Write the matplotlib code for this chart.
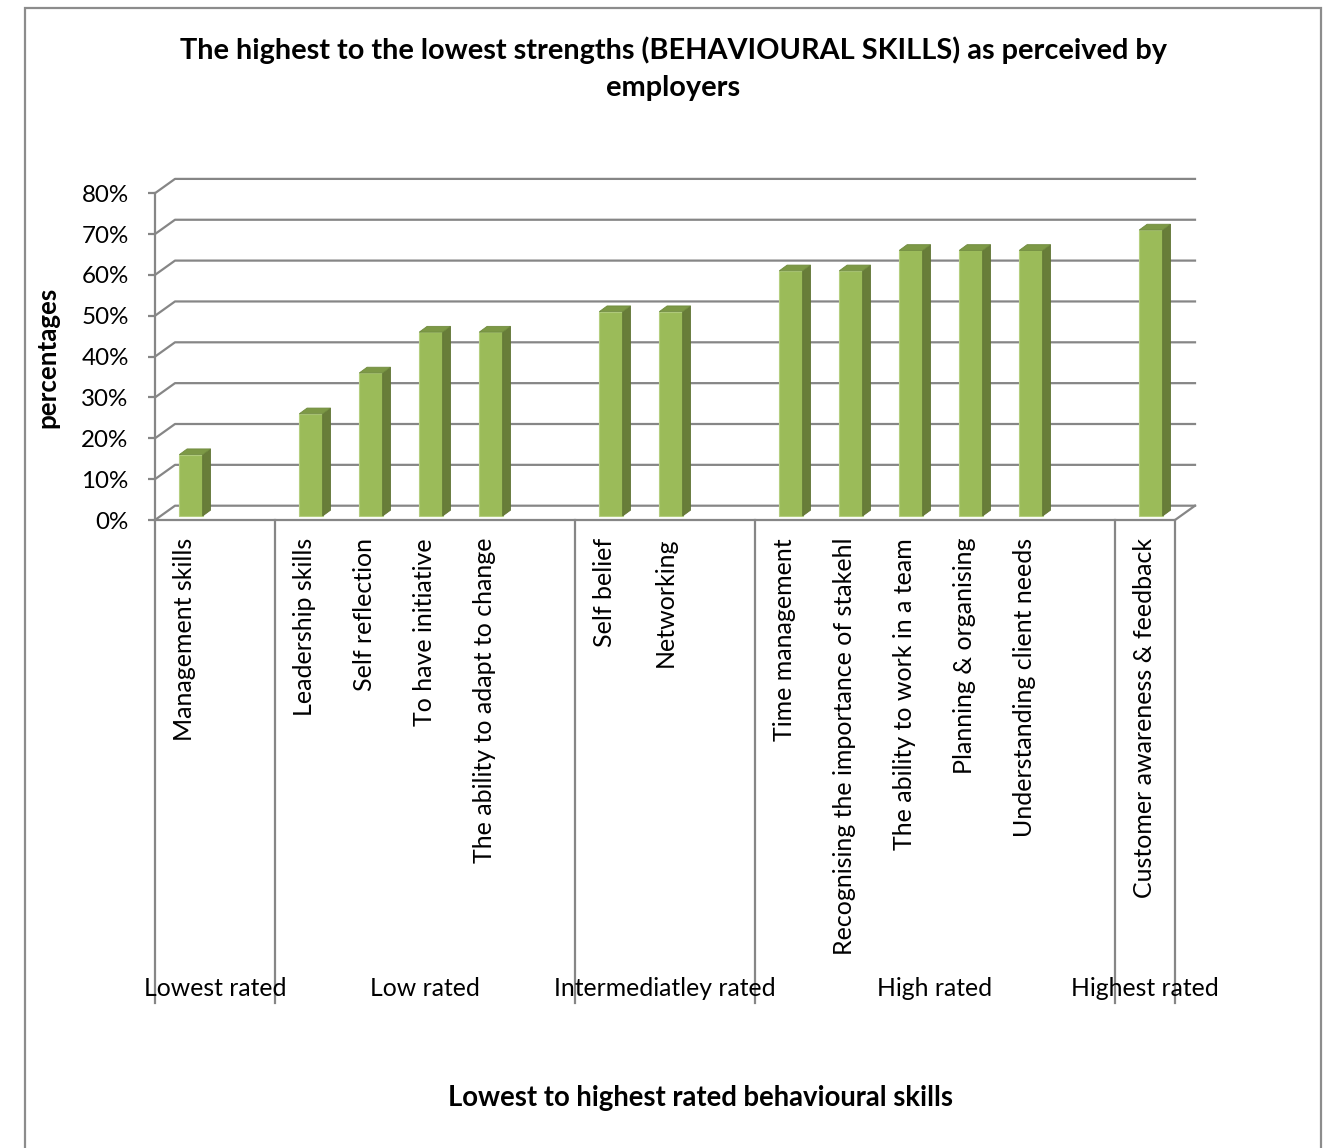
import numpy as np
import matplotlib.pyplot as plt
from matplotlib.patches import Polygon, Rectangle

plt.rcParams['font.family'] = ['Lato', 'DejaVu Sans']

# one slot per category, empty slots separate the groups
skills = ['Management skills', '',
          'Leadership skills', 'Self reflection', 'To have initiative',
          'The ability to adapt to change', '',
          'Self belief', 'Networking', '',
          'Time management', 'Recognising the importance of stakehl',
          'The ability to work in a team', 'Planning & organising',
          'Understanding client needs', '',
          'Customer awareness & feedback']
values = [15, np.nan, 25, 35, 45, 45, np.nan, 50, 50, np.nan,
          60, 60, 65, 65, 65, np.nan, 70]
groups = ['Lowest rated', 'Low rated', 'Intermediatley rated', 'High rated', 'Highest rated']
group_sizes = [2, 5, 3, 6, 1]
yticks = [0, 10, 20, 30, 40, 50, 60, 70, 80]

n = len(skills)
DX, DY = 1 / 3, 3.5          # depth of the walls
BW, BDX, BDY = 0.39, 0.13, 1.4  # bar width and bar depth
OX, OY = 0.1, 1.0            # bar sits part way into the floor
grid_c = '#868686'

fig = plt.figure(figsize=(13.26, 11.48), dpi=100)
fig.patches.append(Rectangle((25 / 1326, -0.01), (1321 - 25) / 1326, 1 - 8 / 1148 + 0.01,
                             transform=fig.transFigure, fill=False,
                             edgecolor='#8c8c8c', linewidth=1.6))

ax = fig.add_axes([155 / 1326, 1 - 520 / 1148, (1195 - 155) / 1326, (520 - 178.9) / 1148])
ax.set_xlim(0, n + DX)
ax.set_ylim(0, yticks[-1] + DY)

# walls and gridlines
for t in yticks:
    ax.plot([0, DX, n + DX], [t, t + DY, t + DY], color=grid_c, lw=1.6, clip_on=False, zorder=1)
ax.plot([0, n, n + DX], [0, 0, DY], color=grid_c, lw=1.6, clip_on=False, zorder=1)

# bars with side and top faces
x = np.arange(n) + 0.5 + OX
h = np.array(values, dtype=float)
ok = ~np.isnan(h)
ax.bar(x[ok], h[ok], width=BW, bottom=OY, color='#9bbb59', edgecolor='#b5cf80',
       linewidth=0.8, zorder=3)
for xi, hi in zip(x[ok], h[ok]):
    r = xi + BW / 2
    l = xi - BW / 2
    top = OY + hi
    ax.add_patch(Polygon([(r, OY), (r + BDX, OY + BDY), (r + BDX, top + BDY), (r, top)],
                         closed=True, facecolor='#687d39', edgecolor='#5f7334', lw=0.6, zorder=3))
    ax.add_patch(Polygon([(l, top), (r, top), (r + BDX, top + BDY), (l + BDX, top + BDY)],
                         closed=True, facecolor='#7d9946', edgecolor='#6f8a3d', lw=0.6, zorder=3))

# y axis
for s in ['top', 'right', 'bottom']:
    ax.spines[s].set_visible(False)
ax.spines['left'].set_bounds(0, yticks[-1])
ax.spines['left'].set_color(grid_c)
ax.spines['left'].set_linewidth(1.6)
ax.set_yticks(yticks)
ax.set_yticklabels([f'{t}%' for t in yticks])
ax.tick_params(axis='y', length=5, width=1.6, color=grid_c, pad=14, labelsize=17.4)
ax.set_xticks([])

# category labels
for i, s in enumerate(skills):
    if s:
        ax.text(i + 0.5, -4.4, s, rotation=90, ha='center', va='top', fontsize=18,
                clip_on=False)

# group separators and group labels
bounds = np.concatenate([[0], np.cumsum(group_sizes)])
low = -118.2
for b in bounds:
    ax.plot([b, b], [0, low], color=grid_c, lw=1.6, clip_on=False, zorder=1)
for g, a, b in zip(groups, bounds[:-1], bounds[1:]):
    ax.text((a + b) / 2, -114.6, g, ha='center', va='center', fontsize=17.8, clip_on=False)

fig.text(673 / 1326, 1 - 50 / 1148,
         'The highest to the lowest strengths (BEHAVIOURAL SKILLS) as perceived by',
         ha='center', va='center', fontsize=20.8, fontweight='bold')
fig.text(673 / 1326, 1 - 88 / 1148, 'employers',
         ha='center', va='center', fontsize=20.8, fontweight='bold')
fig.text(47 / 1326, 1 - 357 / 1148, 'percentages', rotation=90, ha='center', va='center',
         fontsize=18.6, fontweight='bold')
fig.text(700 / 1326, 1 - 1098 / 1148, 'Lowest to highest rated behavioural skills',
         ha='center', va='center', fontsize=19.8, fontweight='bold')

fig.savefig('out.png', dpi=100)
